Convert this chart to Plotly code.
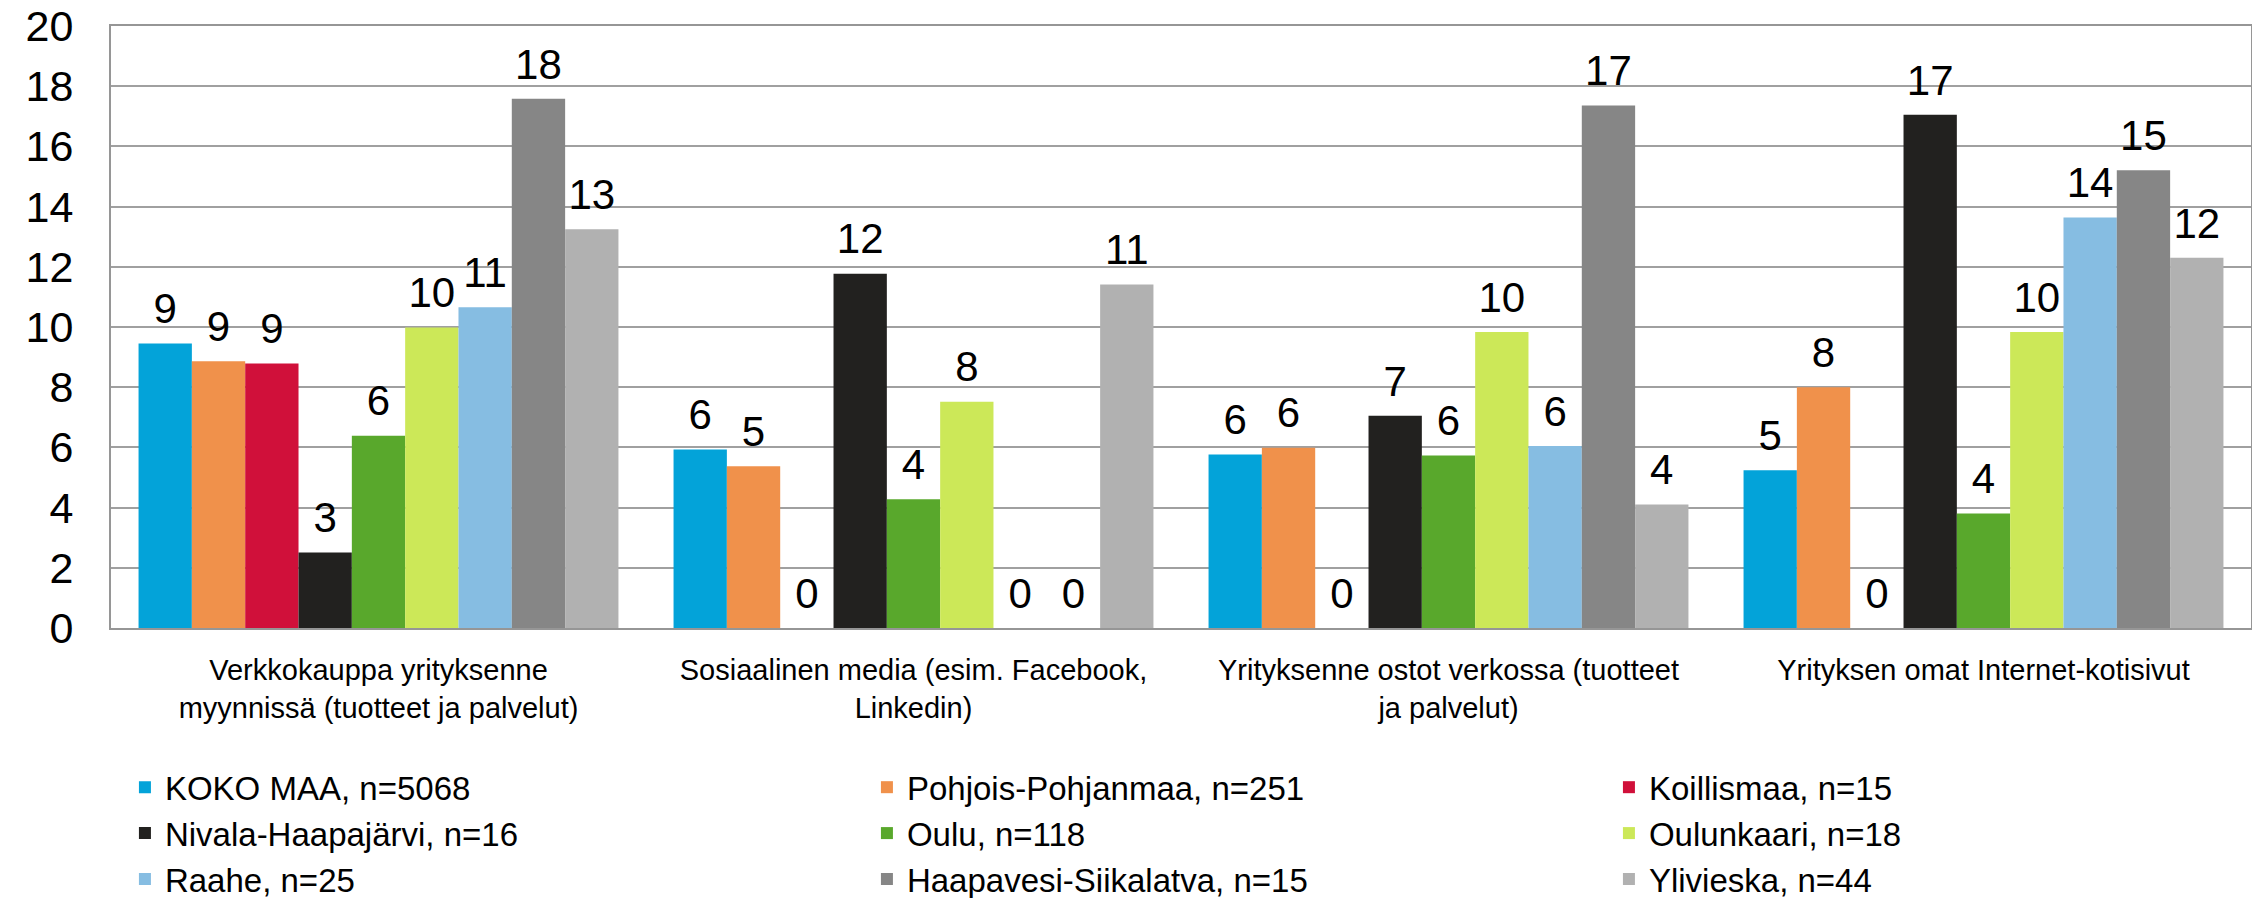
import plotly.graph_objects as go

categories = [
    "Verkkokauppa yrityksenne<br>myynnissä (tuotteet ja palvelut)",
    "Sosiaalinen media (esim. Facebook,<br>Linkedin)",
    "Yrityksenne ostot verkossa (tuotteet<br>ja palvelut)",
    "Yrityksen omat Internet-kotisivut",
]

series_names = [
    "KOKO MAA, n=5068",
    "Pohjois-Pohjanmaa, n=251",
    "Koillismaa, n=15",
    "Nivala-Haapajärvi, n=16",
    "Oulu, n=118",
    "Oulunkaari, n=18",
    "Raahe, n=25",
    "Haapavesi-Siikalatva, n=15",
    "Ylivieska, n=44",
]

koko_maa = [9.45, 5.93, 5.76, 5.24]
pohjois_pohjanmaa = [8.86, 5.37, 5.99, 8.0]
koillismaa = [8.79, 0, 0, 0]
nivala_haapajarvi = [2.51, 11.77, 7.05, 17.05]
oulu = [6.39, 4.28, 5.73, 3.80]
oulunkaari = [9.98, 7.52, 9.83, 9.83]
raahe = [10.66, 0, 6.05, 13.64]
haapavesi_siikalatva = [17.58, 0, 17.36, 15.21]
ylivieska = [13.25, 11.41, 4.10, 12.30]

series_values = [koko_maa, pohjois_pohjanmaa, koillismaa, nivala_haapajarvi,
                 oulu, oulunkaari, raahe, haapavesi_siikalatva, ylivieska]

colors = ["#03A3D9", "#F0914B", "#D0103A", "#22211F", "#59A82C",
          "#CCE858", "#86BDE2", "#868686", "#B1B1B1"]

FONT = "Liberation Sans, Arial, sans-serif"

fig = go.Figure()
for name, vals, col in zip(series_names, series_values, colors):
    fig.add_trace(go.Bar(
        x=categories, y=vals, name=name,
        marker=dict(color=col, line=dict(width=0)),
    ))

for name, vals in zip(series_names, series_values):
    fig.add_trace(go.Scatter(
        x=categories, y=vals, mode="markers+text",
        marker=dict(size=14, opacity=0),
        texttemplate="%{y:.0f}", textposition="top center",
        textfont=dict(family=FONT, size=42, color="#000000"),
        showlegend=False, hoverinfo="skip", cliponaxis=False,
    ))

fig.update_layout(
    width=2252, height=890,
    paper_bgcolor="white", plot_bgcolor="white",
    barmode="group", bargap=0.103, bargroupgap=0,
    scattermode="group", scattergap=0.103,
    margin=dict(l=103, r=9, t=18, b=270, autoexpand=False),
    font=dict(family=FONT, color="#000000"),
    legend=dict(
        orientation="h", x=-0.0005, xanchor="left", y=-0.218, yanchor="top",
        entrywidth=682, entrywidthmode="pixels", indentation=15,
        font=dict(family=FONT, size=33, color="#000000"),
        traceorder="normal",
    ),
)

fig.update_xaxes(
    type="category", showline=True, mirror=True, linecolor="#969696", linewidth=2,
    ticks="", showgrid=False, ticklabelstandoff=15,
    tickfont=dict(family=FONT, size=29, color="#000000"),
)
fig.update_yaxes(
    range=[0, 20], dtick=2, showgrid=True, gridcolor="#A0A0A0", gridwidth=2,
    showline=True, mirror=True, linecolor="#969696", linewidth=2,
    zeroline=False, ticks="", ticklabelstandoff=27, ticklabeloverflow="allow",
    tickfont=dict(family=FONT, size=43, color="#000000"),
)

fig.write_html("out.html")
